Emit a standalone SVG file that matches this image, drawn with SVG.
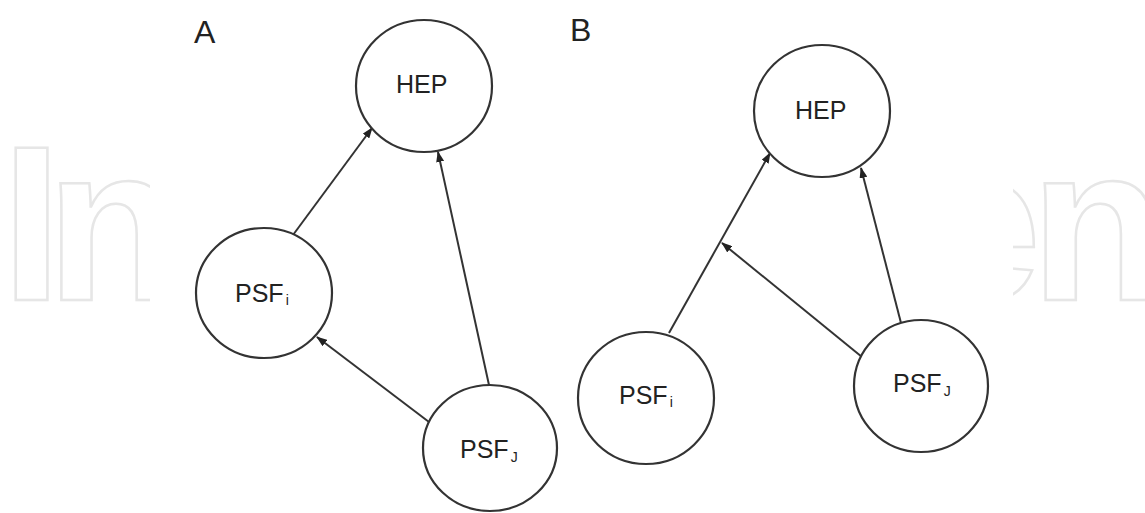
<svg xmlns="http://www.w3.org/2000/svg" width="1145" height="513" viewBox="0 0 1145 513">
  <style>
    .wm { font-family: "Liberation Sans", Arial, sans-serif; font-size: 220px; font-weight: bold; fill: none; stroke: #e6e6e6; stroke-width: 2.5; }
    .node { fill: #ffffff; stroke: #333333; stroke-width: 2.2; }
    .lbl { font-family: "Liberation Sans", Arial, sans-serif; font-size: 25px; fill: #222222; }
    .sub { font-size: 14px; }
    .panel { font-family: "Liberation Sans", Arial, sans-serif; font-size: 32px; fill: #222222; }
    .edge { stroke: #333333; stroke-width: 2; fill: none; marker-end: url(#arr); }
  </style>
  <defs>
    <marker id="arr" markerUnits="userSpaceOnUse" markerWidth="11" markerHeight="8" refX="10" refY="4" orient="auto">
      <path d="M0,0 L11,4 L0,8 z" fill="#222222"/>
    </marker>
  </defs>
  <rect x="0" y="0" width="1145" height="513" fill="#ffffff"/>
  <g id="watermark">
    <text class="wm" x="1" y="300" letter-spacing="-16">In</text>
    <text class="wm" x="919" y="300" letter-spacing="-11">en</text>
    <rect x="150" y="0" width="863" height="513" fill="#ffffff"/>
  </g>
  <g id="panel-labels">
    <text class="panel" x="194" y="43">A</text>
    <text class="panel" x="570" y="41">B</text>
  </g>
  <g id="connectors">
    <line class="edge" x1="293" y1="235" x2="372" y2="128"/>
    <line class="edge" x1="489" y1="385" x2="438" y2="152"/>
    <line class="edge" x1="429" y1="422" x2="317" y2="337"/>
    <line class="edge" x1="669" y1="333" x2="770" y2="153"/>
    <line class="edge" x1="901" y1="323" x2="861" y2="168"/>
    <line class="edge" x1="862" y1="357" x2="722" y2="243"/>
  </g>
  <g id="A-HEP">
    <ellipse class="node" cx="424" cy="86" rx="68" ry="66"/>
    <text class="lbl" x="396" y="93">HEP</text>
  </g>
  <g id="A-PSFi">
    <ellipse class="node" cx="264" cy="293" rx="68" ry="65"/>
    <text class="lbl" x="235" y="302">PSF<tspan class="sub" dx="2" dy="3">i</tspan></text>
  </g>
  <g id="A-PSFJ">
    <ellipse class="node" cx="490" cy="448" rx="67" ry="63"/>
    <text class="lbl" x="460" y="458">PSF<tspan class="sub" dx="2" dy="4">J</tspan></text>
  </g>
  <g id="B-HEP">
    <ellipse class="node" cx="822" cy="111" rx="68" ry="66"/>
    <text class="lbl" x="795" y="119">HEP</text>
  </g>
  <g id="B-PSFi">
    <ellipse class="node" cx="646" cy="398" rx="68" ry="66"/>
    <text class="lbl" x="619" y="404">PSF<tspan class="sub" dx="2" dy="3">i</tspan></text>
  </g>
  <g id="B-PSFJ">
    <ellipse class="node" cx="921" cy="386" rx="67" ry="66"/>
    <text class="lbl" x="893" y="392">PSF<tspan class="sub" dx="2" dy="4">J</tspan></text>
  </g>
</svg>
